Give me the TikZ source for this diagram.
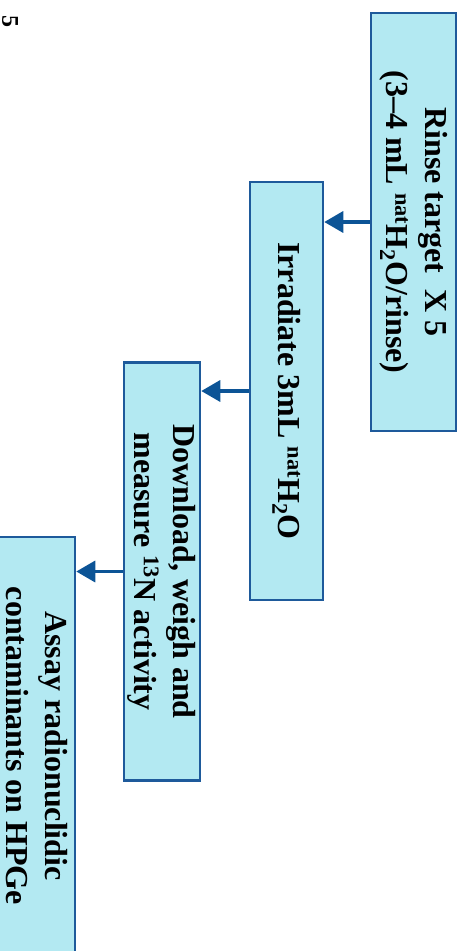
\documentclass[tikz,border=0pt]{standalone}
\usepackage{fontspec}
\setmainfont{Liberation Serif}
\usepackage{xcolor}
\usepackage{tikz}
\usetikzlibrary{arrows.meta, positioning}
\definecolor{cFill}{RGB}{179,233,242}
\definecolor{cEdge}{RGB}{30,90,155}
\definecolor{cArrow}{RGB}{12,84,150}
\tikzset{
	stepbox/.style  ={rectangle, rotate=-90, draw=cEdge, line width=2.5pt, fill=cFill, minimum width=418pt, inner sep=0pt, align=center, text centered, font=\fontsize{32}{39}\selectfont\bfseries},
	flowarrow/.style={-{Triangle[length=19pt, width=21pt]}, line width=3.5pt, draw=cArrow},
}
\begin{document}
\begin{tikzpicture}[x=1pt, y=-1pt]
	\useasboundingbox (0,0) rectangle (463,951);
	\node[stepbox, minimum height=85pt] (rinse) at (413.5,222) {Rinse target~ X 5\\(3--4 mL \textsuperscript{nat}H\textsubscript{2}O/rinse)};
	\node[stepbox, minimum height=73pt] (irr) at (286.5,391) {Irradiate 3mL \textsuperscript{nat}H\textsubscript{2}O};
	\node[stepbox, minimum height=76pt] (meas) at (162,571.5) {Download, weigh and\\measure \textsuperscript{13}N activity};
	\node[stepbox, minimum height=76pt] (assay) at (37,746) {Assay radionuclidic\\contaminants on HPGe};
	\draw[flowarrow] (rinse.south) -- (rinse.south -| irr.north);
	\draw[flowarrow] (irr.south) -- (irr.south -| meas.north);
	\draw[flowarrow] (meas.south) -- (meas.south -| assay.north);
	\node[rotate=-90, font=\fontsize{24}{24}\selectfont\bfseries, inner sep=0pt] (pg) at (10,21) {5};
\end{tikzpicture}
\end{document}
